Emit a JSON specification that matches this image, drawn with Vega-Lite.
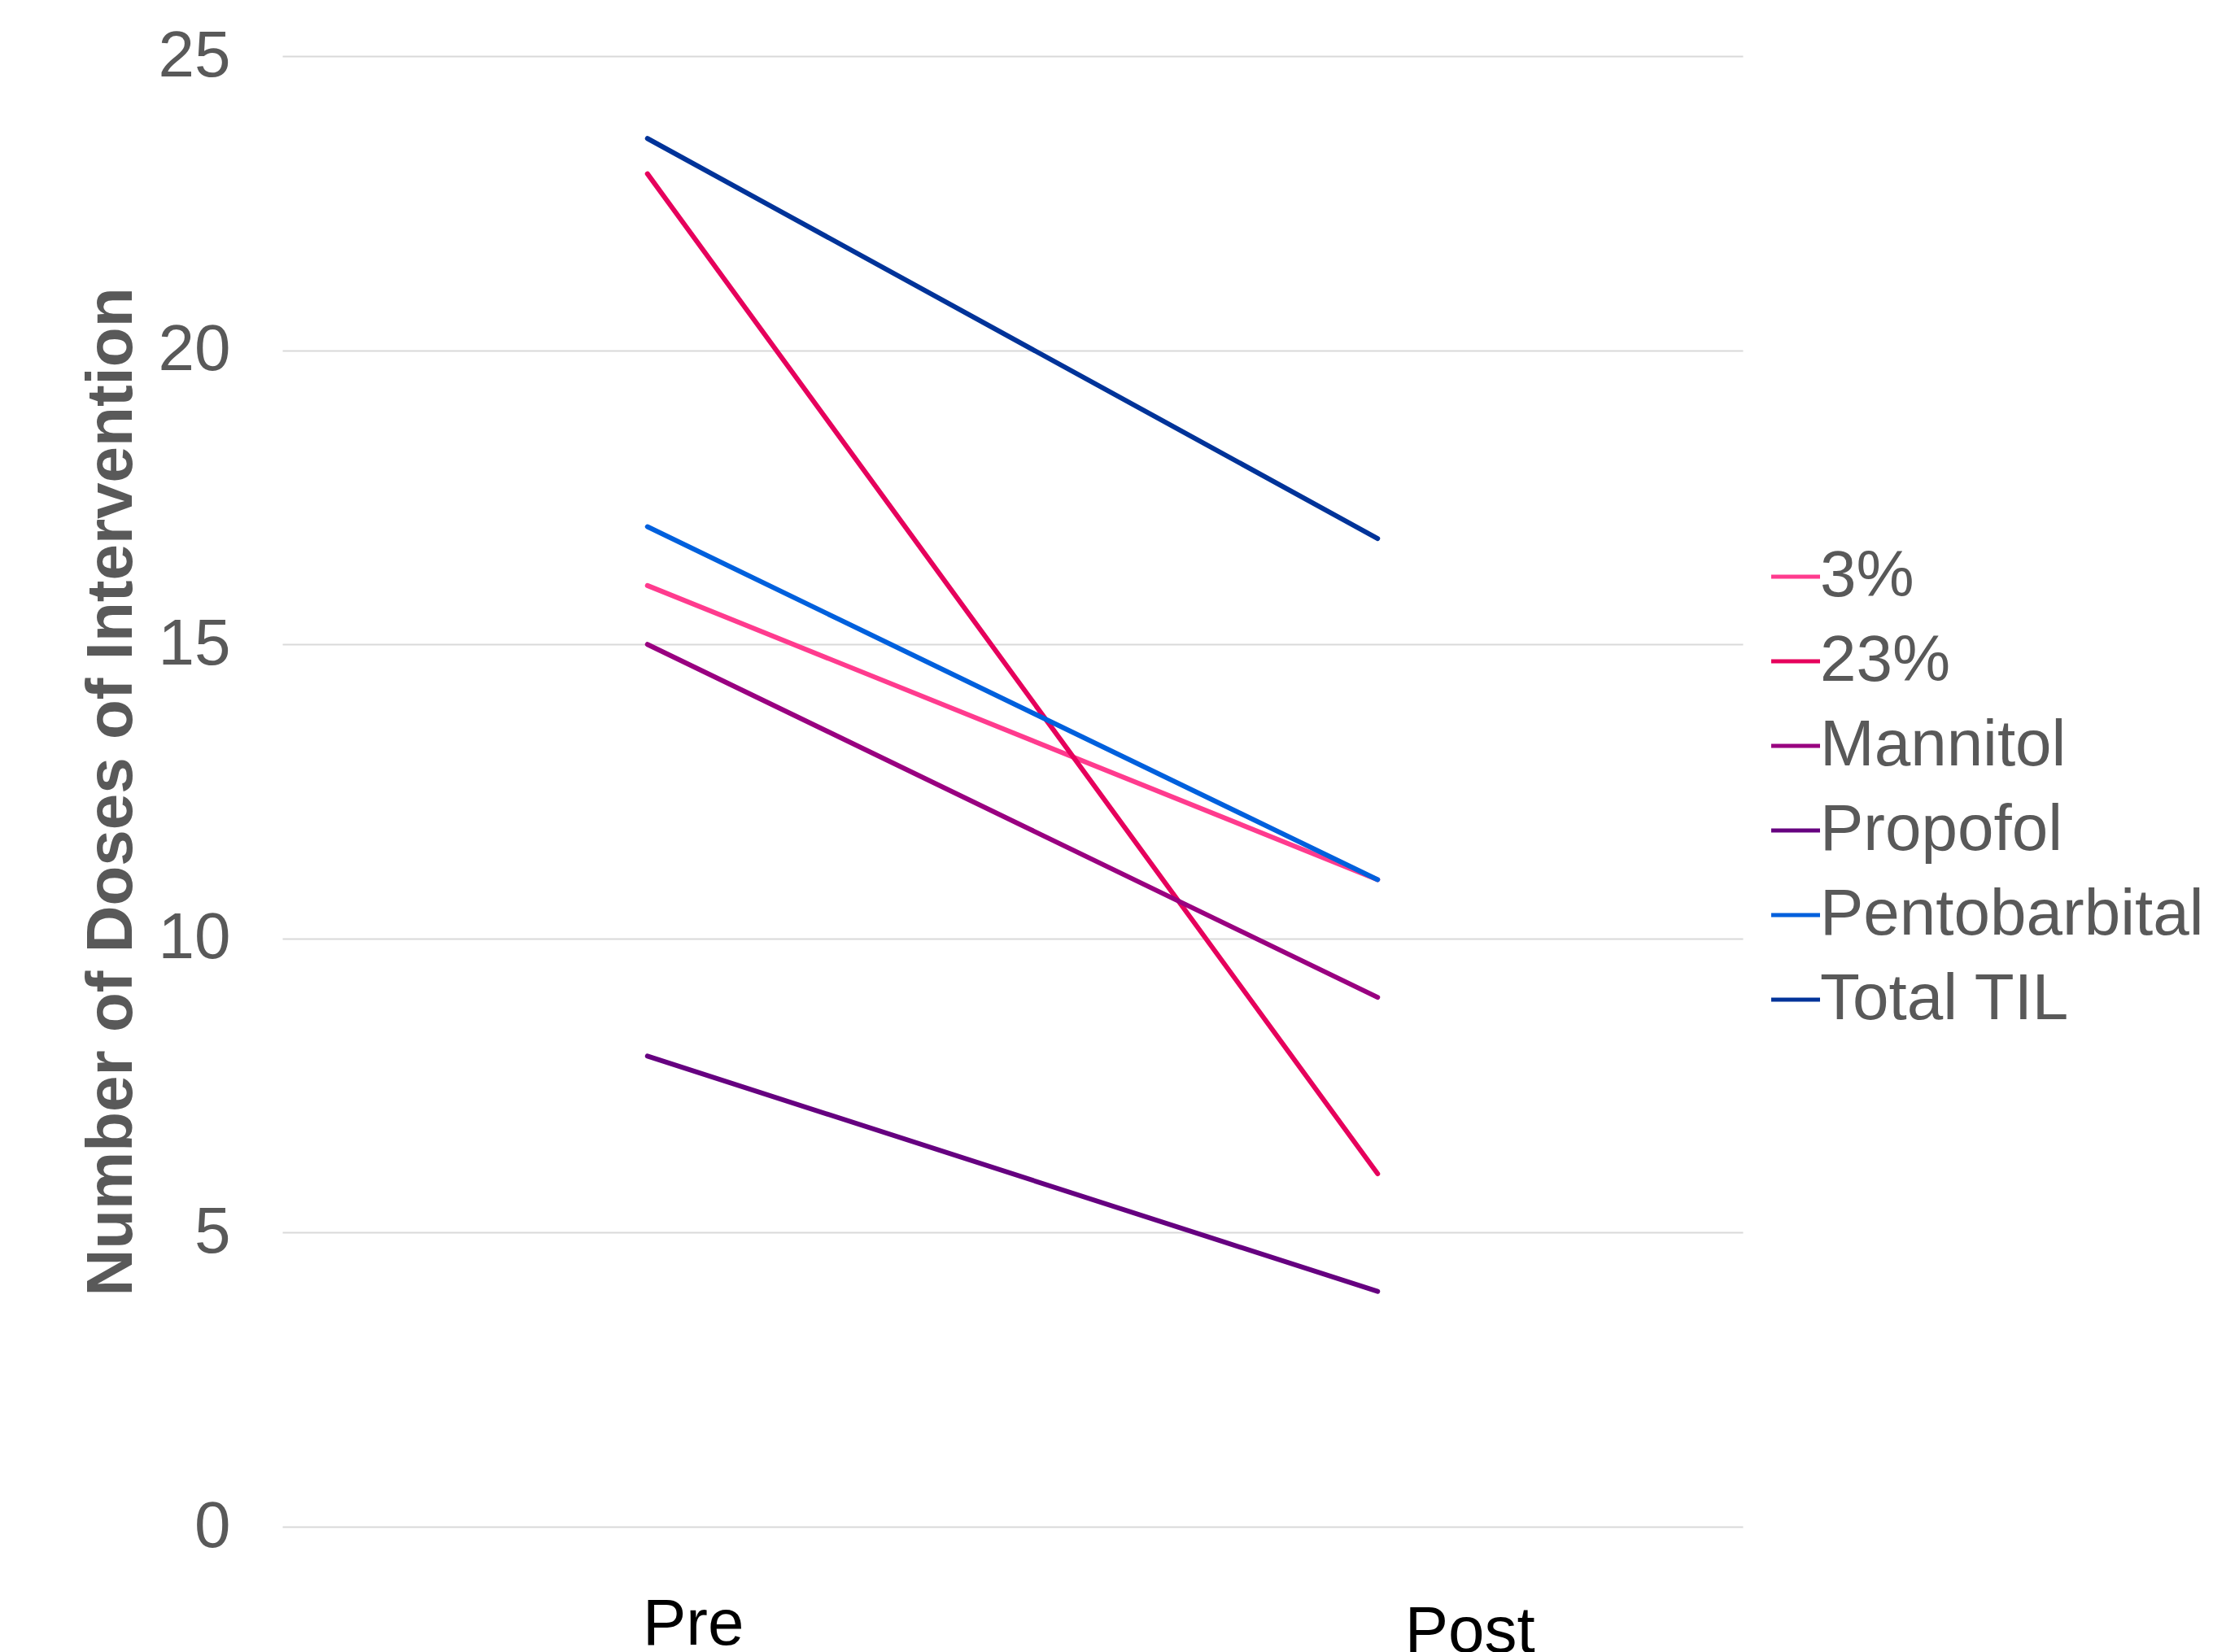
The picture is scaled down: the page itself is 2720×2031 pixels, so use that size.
{
  "$schema": "https://vega.github.io/schema/vega-lite/v6.json",
  "width": 1795,
  "height": 1808,
  "autosize": {"type": "none"},
  "padding": {"left": 347, "top": 69, "right": 578, "bottom": 154},
  "background": "white",
  "config": {
    "view": {"stroke": null},
    "font": "Liberation Sans"
  },
  "data": {
    "values": [
      {"Drug": "3%", "Phase": "Pre", "Doses": 16},
      {"Drug": "3%", "Phase": "Post", "Doses": 11},
      {"Drug": "23%", "Phase": "Pre", "Doses": 23},
      {"Drug": "23%", "Phase": "Post", "Doses": 6},
      {"Drug": "Mannitol", "Phase": "Pre", "Doses": 15},
      {"Drug": "Mannitol", "Phase": "Post", "Doses": 9},
      {"Drug": "Propofol", "Phase": "Pre", "Doses": 8},
      {"Drug": "Propofol", "Phase": "Post", "Doses": 4},
      {"Drug": "Pentobarbital", "Phase": "Pre", "Doses": 17},
      {"Drug": "Pentobarbital", "Phase": "Post", "Doses": 11},
      {"Drug": "Total TIL", "Phase": "Pre", "Doses": 23.6},
      {"Drug": "Total TIL", "Phase": "Post", "Doses": 16.8}
    ]
  },
  "mark": {"type": "line", "strokeWidth": 6, "strokeCap": "round"},
  "encoding": {
    "x": {
      "field": "Phase",
      "type": "ordinal",
      "sort": ["Pre", "Post"],
      "scale": {"type": "point", "padding": 0.5},
      "axis": {
        "title": null,
        "domain": false,
        "ticks": false,
        "grid": false,
        "labelAngle": 0,
        "labelFontSize": 80,
        "labelColor": "#000000",
        "labelBaseline": "alphabetic",
        "labelPadding": {"condition": {"test": "datum.value === 'Pre'", "value": 144}, "value": 153},
        "labelOffset": {"condition": {"test": "datum.value === 'Pre'", "value": 56}, "value": 113}
      }
    },
    "y": {
      "field": "Doses",
      "type": "quantitative",
      "scale": {"domain": [0, 25], "nice": false},
      "axis": {
        "values": [0, 5, 10, 15, 20, 25],
        "title": "Number of Doses of Intervention",
        "titleFontSize": 80,
        "titleFontWeight": "bold",
        "titleColor": "#595959",
        "titlePadding": 16,
        "domain": false,
        "ticks": false,
        "labelFontSize": 80,
        "labelColor": "#595959",
        "labelPadding": 64,
        "gridColor": "#D9D9D9",
        "gridWidth": 2
      }
    },
    "color": {
      "field": "Drug",
      "type": "nominal",
      "scale": {
        "domain": ["3%", "23%", "Mannitol", "Propofol", "Pentobarbital", "Total TIL"],
        "range": ["#FF3B8E", "#E6005C", "#990080", "#660080", "#0060DD", "#003399"]
      },
      "legend": {
        "title": null,
        "orient": "none",
        "legendX": 1820,
        "legendY": 600,
        "symbolType": "stroke",
        "symbolSize": 3600,
        "symbolStrokeWidth": 5,
        "labelFontSize": 80,
        "labelColor": "#595959",
        "labelOffset": -10,
        "rowPadding": 24,
        "padding": 0,
        "labelLimit": 1000
      }
    }
  }
}
